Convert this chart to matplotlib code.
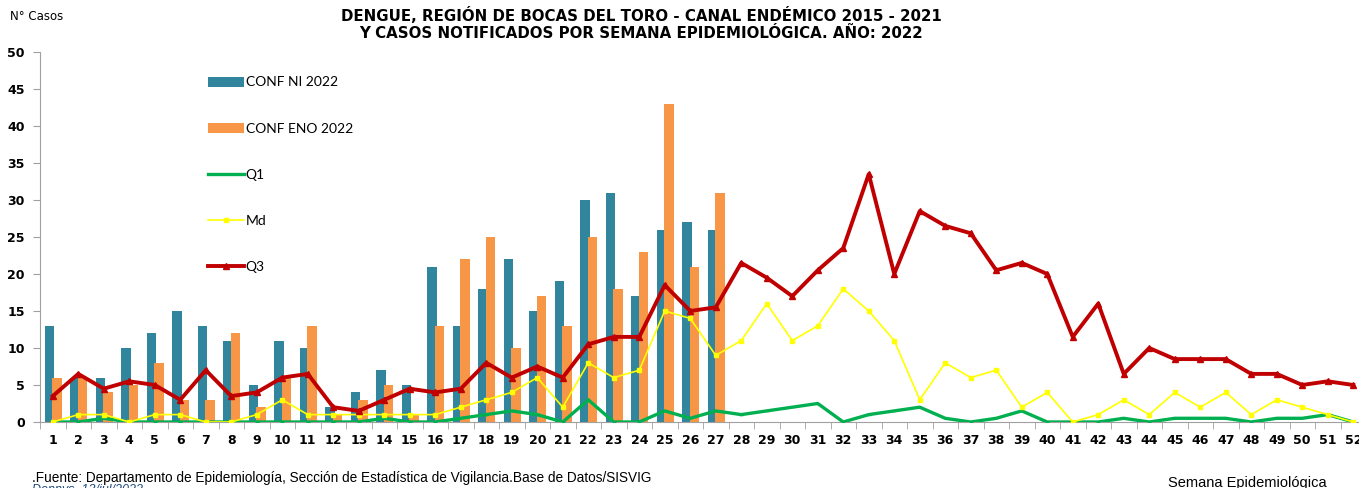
import matplotlib
matplotlib.use("Agg")
import matplotlib.pyplot as plt
import numpy as np

weeks = list(range(1, 53))
conf_ni_2022 = [13, 6, 6, 10, 12, 15, 13, 11, 5, 11, 10, 2, 4, 7, 5, 21, 13, 18, 22, 15,
                19, 30, 31, 17, 26, 27, 26]
conf_eno_2022 = [6, 6, 4, 5, 8, 3, 3, 12, 2, 6, 13, 1, 3, 5, 1, 13, 22, 25, 10, 17,
                 13, 25, 18, 23, 43, 21, 31]
q1 = [0, 0, 0.5, 0, 0, 0, 0, 0, 0, 0, 0, 0, 0, 0.5, 0, 0, 0.5, 1, 1.5, 1,
      0, 3, 0, 0, 1.5, 0.5, 1.5, 1, 1.5, 2, 2.5, 0, 1, 1.5, 2, 0.5, 0, 0.5, 1.5, 0,
      0, 0, 0.5, 0, 0.5, 0.5, 0.5, 0, 0.5, 0.5, 1, 0]
md = [0, 1, 1, 0, 1, 1, 0, 0, 1, 3, 1, 1, 1, 1, 1, 1, 2, 3, 4, 6,
      2, 8, 6, 7, 15, 14, 9, 11, 16, 11, 13, 18, 15, 11, 3, 8, 6, 7, 2, 4,
      0, 1, 3, 1, 4, 2, 4, 1, 3, 2, 1, 0]
q3 = [3.5, 6.5, 4.5, 5.5, 5, 3, 7, 3.5, 4, 6, 6.5, 2, 1.5, 3, 4.5, 4, 4.5, 8, 6, 7.5,
      6, 10.5, 11.5, 11.5, 18.5, 15, 15.5, 21.5, 19.5, 17, 20.5, 23.5, 33.5, 20, 28.5, 26.5, 25.5, 20.5, 21.5, 20,
      11.5, 16, 6.5, 10, 8.5, 8.5, 8.5, 6.5, 6.5, 5, 5.5, 5]

title = ("DENGUE, REGIÓN DE BOCAS DEL TORO - CANAL ENDÉMICO 2015 - 2021\n"
         "Y CASOS NOTIFICADOS POR SEMANA EPIDEMIOLÓGICA. AÑO: 2022")

W, H = 1359, 488
fig = plt.figure(figsize=(W / 100, H / 100), dpi=100)
ax = fig.add_axes([40 / W, 1 - 422 / H, (1366 - 40) / W, (422 - 52) / H])

fam = ["Lato", "DejaVu Sans"]
dv = ["DejaVu Sans"]
arial = ["Liberation Sans", "DejaVu Sans"]
x_ni = np.arange(1, len(conf_ni_2022) + 1)
x_eno = np.arange(1, len(conf_eno_2022) + 1)
bw = 0.37
b1 = ax.bar(x_ni - 0.13, conf_ni_2022, width=bw, color="#31859C", label="CONF NI 2022", zorder=2)
b2 = ax.bar(x_eno + 0.16, conf_eno_2022, width=bw, color="#F79646", label="CONF ENO 2022", zorder=2)
l1, = ax.plot(weeks, q1, color="#00B050", lw=2.4, marker="_", ms=3, label="Q1", zorder=3)
l2, = ax.plot(weeks, md, color="#FFFF00", lw=1.2, marker="s", ms=3, label="Md", zorder=4)
l3, = ax.plot(weeks, q3, color="#C00000", lw=2.8, marker="^", ms=4, label="Q3", zorder=5)

ax.set_xlim(0.5, 52.5)
ax.set_ylim(0, 50)
ax.set_yticks(range(0, 51, 5))
ax.set_xticks(weeks)
ax.set_xticks(np.arange(0.5, 53, 1), minor=True)
ax.tick_params(axis="x", which="major", length=0, pad=9)
ax.tick_params(axis="x", which="minor", length=5, color="#A0A0A0", direction="out")
ax.tick_params(axis="y", length=5, color="#A0A0A0", direction="out", pad=6)
for lab in ax.get_xticklabels() + ax.get_yticklabels():
    lab.set_fontfamily(dv)
    lab.set_fontweight("bold")
    lab.set_fontsize(9)
for s in ["top", "right"]:
    ax.spines[s].set_visible(False)
ax.spines["left"].set_color("#A0A0A0")
ax.spines["bottom"].set_color("#A0A0A0")

leg = ax.legend([b1, b2, l1, l2, l3], ["CONF NI 2022", "CONF ENO 2022", "Q1", "Md", "Q3"],
                loc="upper left", bbox_to_anchor=(155 / (1366 - 40), 1 - 12 / 370),
                frameon=False, handlelength=2.6, handletextpad=0.15, labelspacing=2.45,
                prop={"family": fam, "size": 10})

fig.text(641 / W, 1 - 24 / H, title, ha="center", va="center", fontsize=10.8,
         fontweight="bold", family=dv, linespacing=1.2)
fig.text(10 / W, 1 - 17 / H, "N° Casos", ha="left", va="center", fontsize=8.5, family=dv)
fig.text(1247 / W, 1 - 483 / H, "Semana Epidemiológica", ha="center", va="center",
         fontsize=10.5, family=arial)
fig.text(32 / W, 1 - 478 / H,
         ".Fuente: Departamento de Epidemiología, Sección de Estadística de Vigilancia.Base de Datos/SISVIG",
         ha="left", va="center", fontsize=9.8, family=arial)
fig.text(32 / W, 1 - 484 / H, "Dennys, 13/jul/2022", ha="left", va="top", fontsize=9,
         style="italic", color="#1F497D", family=arial)

fig.savefig("out.png", dpi=100)
